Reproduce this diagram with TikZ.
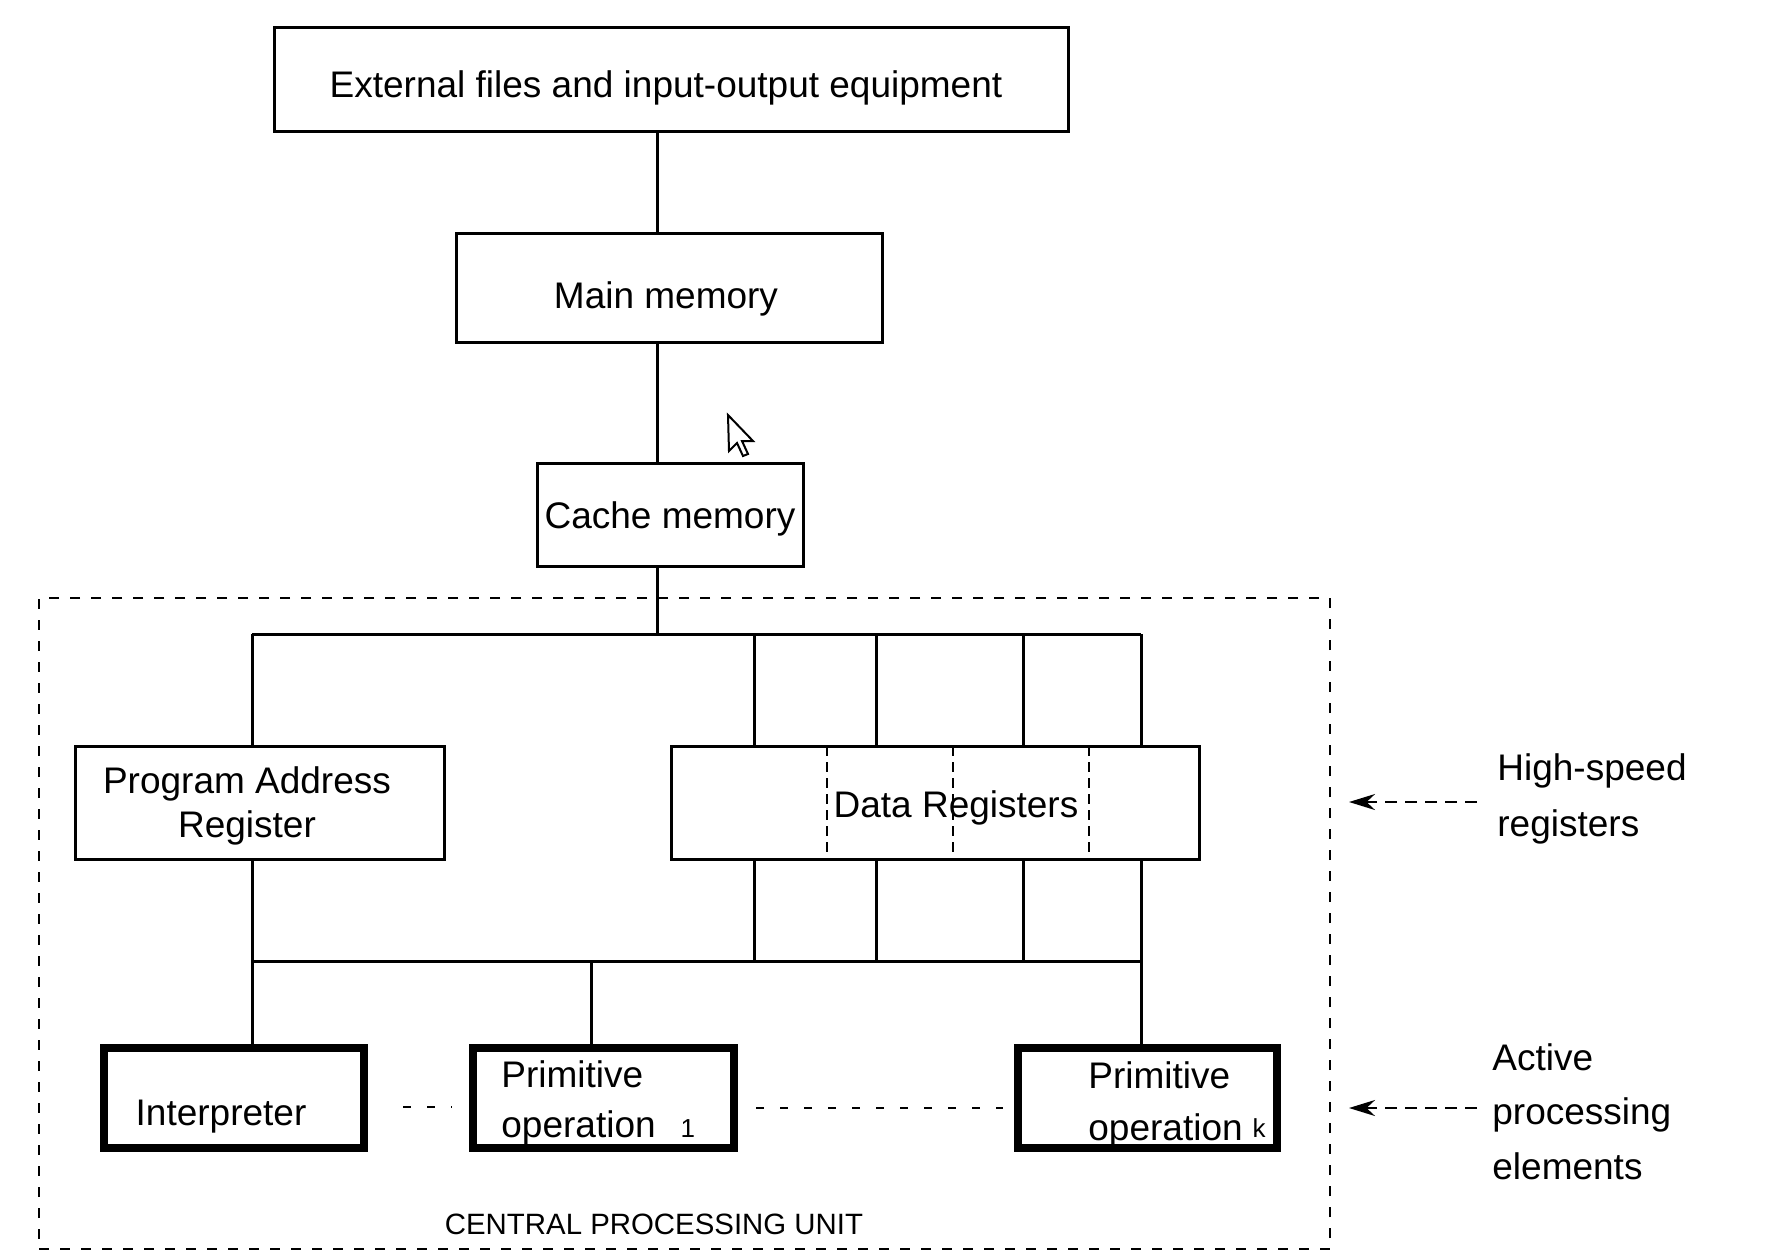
\documentclass[tikz,border=0pt]{standalone}
\usepackage{fontspec}
\setmainfont{Liberation Sans}
\usetikzlibrary{arrows.meta}
\begin{document}
\begin{tikzpicture}[x=0.5pt,y=-0.5pt,
  box/.style={draw, line width=1.5pt, inner sep=0pt},
  thickbox/.style={draw, line width=4pt, inner sep=0pt},
  cpubox/.style={draw, line width=1.2pt, dash pattern=on 5pt off 5.5pt, inner sep=0pt},
  txt/.style={inner sep=0pt, font=\fontsize{18.5}{22}\selectfont},
  wire/.style={line width=1.5pt},
  divider/.style={line width=1pt, dash pattern=on 5pt off 3pt},
  dotline/.style={line width=1.2pt, dash pattern=on 4pt off 8pt},
  pointer/.style={line width=1.2pt, dash pattern=on 6pt off 4pt, -{Stealth[length=13pt,width=8pt]}}]
\useasboundingbox (0,0) rectangle (1790,1255);

% boxes
\node[box, minimum width=397pt, minimum height=52pt] (ext) at (671,79) {};
\node[box, minimum width=213pt, minimum height=54.5pt] (main) at (669,287.5) {};
\node[box, minimum width=133pt, minimum height=51.5pt] (cache) at (670,514.5) {};
\node[cpubox, minimum width=645.5pt, minimum height=325.5pt] (cpu) at (684.5,923.5) {};
\node[box, minimum width=184.5pt, minimum height=56.5pt] (par) at (259.5,802.5) {};
\node[box, minimum width=264pt, minimum height=56.5pt] (dr) at (935,802.5) {};
\node[thickbox, minimum width=130pt, minimum height=50pt] (int) at (234,1098) {};
\node[thickbox, minimum width=130.5pt, minimum height=50pt] (op1) at (603.5,1098) {};
\node[thickbox, minimum width=129.5pt, minimum height=50pt] (opk) at (1147.5,1098) {};

% dividers inside data registers
\draw[divider] (827,746) -- (827,859);
\draw[divider] (953,746) -- (953,859);
\draw[divider] (1089,746) -- (1089,859);

% texts (multi-line nodes: base = baseline of last line)
\node[txt, anchor=base] (ext-t) at (666,97) {External files and input-output equipment};
\node[txt, anchor=base] (main-t) at (666,308) {Main memory};
\node[txt, anchor=base] (cache-t) at (670,528) {Cache memory};
\node[txt, anchor=base, align=center] (par-t) at (247,837) {Program Address\\Register};
\node[txt, anchor=base] (dr-t) at (956,817) {Data Registers};
\node[txt, anchor=base] (int-t) at (221,1125) {Interpreter};
\node[txt, anchor=base west, align=left, font=\fontsize{18.5}{25}\selectfont] (op1-t) at (501,1137)
  {Primitive\\operation\hspace{12.5pt}{\fontsize{13}{13}\selectfont 1}};
\node[txt, anchor=base west, align=left, font=\fontsize{18.5}{26}\selectfont] (opk-t) at (1088,1140)
  {Primitive\\operation\hspace{5pt}\raisebox{1.5pt}{\fontsize{13}{13}\selectfont k}};
\node[txt, anchor=base, font=\fontsize{14.7}{17}\selectfont] (cpu-t) at (654,1234) {CENTRAL PROCESSING UNIT};
\node[txt, anchor=base west, align=left, font=\fontsize{18.5}{28}\selectfont] (hs-t) at (1497,836) {High-speed\\registers};
\node[txt, anchor=base west, align=left, font=\fontsize{18.5}{27.2}\selectfont] (ape-t) at (1492,1179) {Active\\processing\\elements};

% connectors
\coordinate (sx) at (657,0);
\coordinate (tbL) at (252,634);
\coordinate (tbR) at (1141,634);
\coordinate (lbL) at (252,961);
\coordinate (lbR) at (1141,961);
\coordinate (d1) at (754,634);
\coordinate (d2) at (876,634);
\coordinate (d3) at (1023,634);
\coordinate (m1) at (591,961);

\draw[wire] (ext.south -| sx) -- (main.north -| sx);
\draw[wire] (main.south -| sx) -- (cache.north -| sx);
\draw[wire] (cache.south -| sx) -- (tbL -| sx);
\draw[wire] (tbL) -- (tbR);
\draw[wire] (tbL) -- (par.north -| tbL);
\draw[wire] (d1) -- (dr.north -| d1);
\draw[wire] (d2) -- (dr.north -| d2);
\draw[wire] (d3) -- (dr.north -| d3);
\draw[wire] (tbR) -- (dr.north -| tbR);
\draw[wire] (dr.south -| d1) -- (lbL -| d1);
\draw[wire] (dr.south -| d2) -- (lbL -| d2);
\draw[wire] (dr.south -| d3) -- (lbL -| d3);
\draw[wire] (dr.south -| tbR) -- (lbR);
\draw[wire] (par.south -| lbL) -- (int.north -| lbL);
\draw[wire] (lbL) -- (lbR);
\draw[wire] (m1) -- (op1.north -| m1);
\draw[wire] (lbR) -- (opk.north -| lbR);

% dotted links between processing elements
\coordinate (c1) at (403,1107);
\coordinate (c2) at (452,1107);
\coordinate (c3) at (756,1108);
\coordinate (c4) at (1003,1108);
\draw[dotline] (c1) -- (c2);
\draw[dotline] (c3) -- (c4);

% pointers
\coordinate (a1s) at (1477,802);
\coordinate (a1e) at (1349,802);
\coordinate (a2s) at (1477,1108);
\coordinate (a2e) at (1349,1108);
\draw[pointer] (a1s) -- (a1e);
\draw[pointer] (a2s) -- (a2e);

% mouse cursor
\draw[line width=1pt, fill=white] (728,415) -- (729,451) -- (737,443) -- (743,456) -- (748,454) -- (742,441) -- (753,441) -- cycle;
\end{tikzpicture}
\end{document}
